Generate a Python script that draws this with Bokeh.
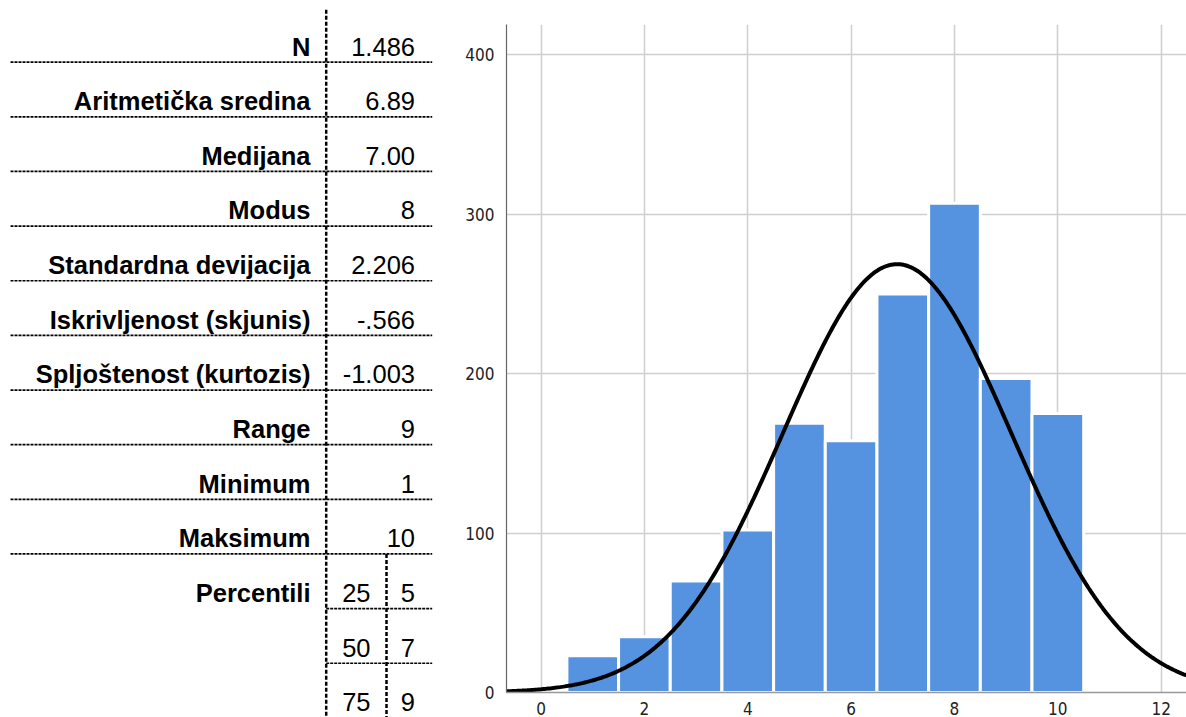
import numpy as np
from bokeh.plotting import figure
from bokeh.layouts import row, column
from bokeh.models import Range1d, FixedTicker, ColumnDataSource
from bokeh.core.properties import value
from bokeh.embed import file_html
from bokeh.resources import INLINE

# ---------------- data ----------------
stat_labels = ["N", "Aritmetička sredina", "Medijana", "Modus", "Standardna devijacija",
               "Iskrivljenost (skjunis)", "Spljoštenost (kurtozis)", "Range", "Minimum",
               "Maksimum", "Percentili"]
stat_values = ["1.486", "6.89", "7.00", "8", "2.206", "-.566", "-1.003", "9", "1", "10"]
pct_levels = ["25", "50", "75"]
pct_values = ["5", "7", "9"]

bins = [1, 2, 3, 4, 5, 6, 7, 8, 9, 10]
counts = [23, 35, 70, 102, 169, 158, 250, 307, 197, 175]
n_total = 1486
mean_val = 6.89
sd_val = 2.206
x_ticks = [0, 2, 4, 6, 8, 10, 12]
y_ticks = [0, 100, 200, 300, 400]

# ---------------- table ----------------
LBL_FONT = "Liberation Sans"
FS = "25.5px"
H = 717
Y_TOP, Y_BOT = -0.129, 12.993
tbl = figure(width=450, height=H, output_backend="svg", toolbar_location=None, title=None,
             x_range=Range1d(0, 450), y_range=Range1d(Y_BOT, Y_TOP),
             min_border=0, outline_line_color=None)
tbl.axis.visible = False
tbl.grid.visible = False
tbl.background_fill_color = "white"
tbl.border_fill_color = "white"

X_LINE0, X_LINE1 = 10, 431.7
X_VSEP1, X_VSEP2 = 325.7, 386
X_LABEL_R, X_VAL_R, X_PCT_R = 310, 414.5, 370
MID_OFF = 0.287

n_rows = len(stat_labels)
tbl.text(x=[X_LABEL_R] * n_rows, y=[i + 1 - MID_OFF for i in range(n_rows)], text=stat_labels,
         text_align="right", text_baseline="middle", text_font=value(LBL_FONT),
         text_font_style="bold", text_font_size=FS, text_color="black")
nv = len(stat_values)
tbl.text(x=[X_VAL_R] * nv, y=[i + 1 - MID_OFF for i in range(nv)], text=stat_values,
         text_align="right", text_baseline="middle", text_font=value(LBL_FONT),
         text_font_size=FS, text_color="black")
np_ = len(pct_levels)
tbl.text(x=[X_PCT_R] * np_, y=[nv + i + 1 - MID_OFF for i in range(np_)], text=pct_levels,
         text_align="right", text_baseline="middle", text_font=value(LBL_FONT),
         text_font_size=FS, text_color="black")
tbl.text(x=[X_VAL_R] * np_, y=[nv + i + 1 - MID_OFF for i in range(np_)], text=pct_values,
         text_align="right", text_baseline="middle", text_font=value(LBL_FONT),
         text_font_size=FS, text_color="black")

# horizontal dashed separators
for i in range(nv):
    tbl.line([X_LINE0, X_LINE1], [i + 1, i + 1], line_color="black", line_width=1.7,
             line_dash="3 1")
for i in range(np_ - 1):
    tbl.line([X_VSEP1, X_LINE1], [nv + i + 1, nv + i + 1], line_color="black",
             line_width=1.7, line_dash="3 1")
# vertical dashed separators
tbl.line([X_VSEP1, X_VSEP1], [0.041, Y_BOT], line_color="black", line_width=2.5,
         line_dash="4 2")
tbl.line([X_VSEP2, X_VSEP2], [nv, Y_BOT], line_color="black", line_width=2.5,
         line_dash="4 2")

# ---------------- histogram ----------------
TICK_FONT = "'Liberation Sans Narrow', 'DejaVu Sans Condensed', sans-serif"
p = figure(width=736, height=H, output_backend="svg", toolbar_location=None, title=None,
           x_range=Range1d(-0.669, 12.49), y_range=Range1d(0, 419.1),
           min_border_left=56, min_border_right=0, min_border_top=24,
           min_border_bottom=25, outline_line_color=None)
p.background_fill_color = "white"
p.border_fill_color = "white"

src = ColumnDataSource(dict(x=bins, top=counts))
p.vbar(x="x", top="top", bottom=0, width=1.0, source=src, fill_color="#5592e0",
       line_color="white", line_width=3)

xc = np.linspace(-0.669, 12.6, 400)
yc = n_total * np.exp(-0.5 * ((xc - mean_val) / sd_val) ** 2) / (sd_val * np.sqrt(2 * np.pi))
p.line(xc, yc, line_color="black", line_width=4)

p.xaxis.ticker = FixedTicker(ticks=x_ticks)
p.yaxis.ticker = FixedTicker(ticks=y_ticks)
p.xgrid.ticker = FixedTicker(ticks=x_ticks)
p.ygrid.ticker = FixedTicker(ticks=y_ticks)
p.grid.grid_line_color = "#cfcfcf"
p.grid.grid_line_width = 1.5
p.grid.level = "underlay"
for ax in (p.xaxis[0], p.yaxis[0]):
    ax.major_tick_line_color = None
    ax.minor_tick_line_color = None
    ax.major_label_text_font = TICK_FONT
    ax.major_label_text_font_size = "17px"
    ax.major_label_text_color = "#222222"
    ax.major_label_standoff = 6
p.yaxis.axis_line_color = "#666666"
p.yaxis.axis_line_width = 1.2
p.xaxis.axis_line_color = "#999999"
p.xaxis.axis_line_width = 1.5
p.xaxis.major_label_standoff = 3

layout = row(column(tbl), p)
open("out.html", "w").write(file_html(layout, INLINE))
